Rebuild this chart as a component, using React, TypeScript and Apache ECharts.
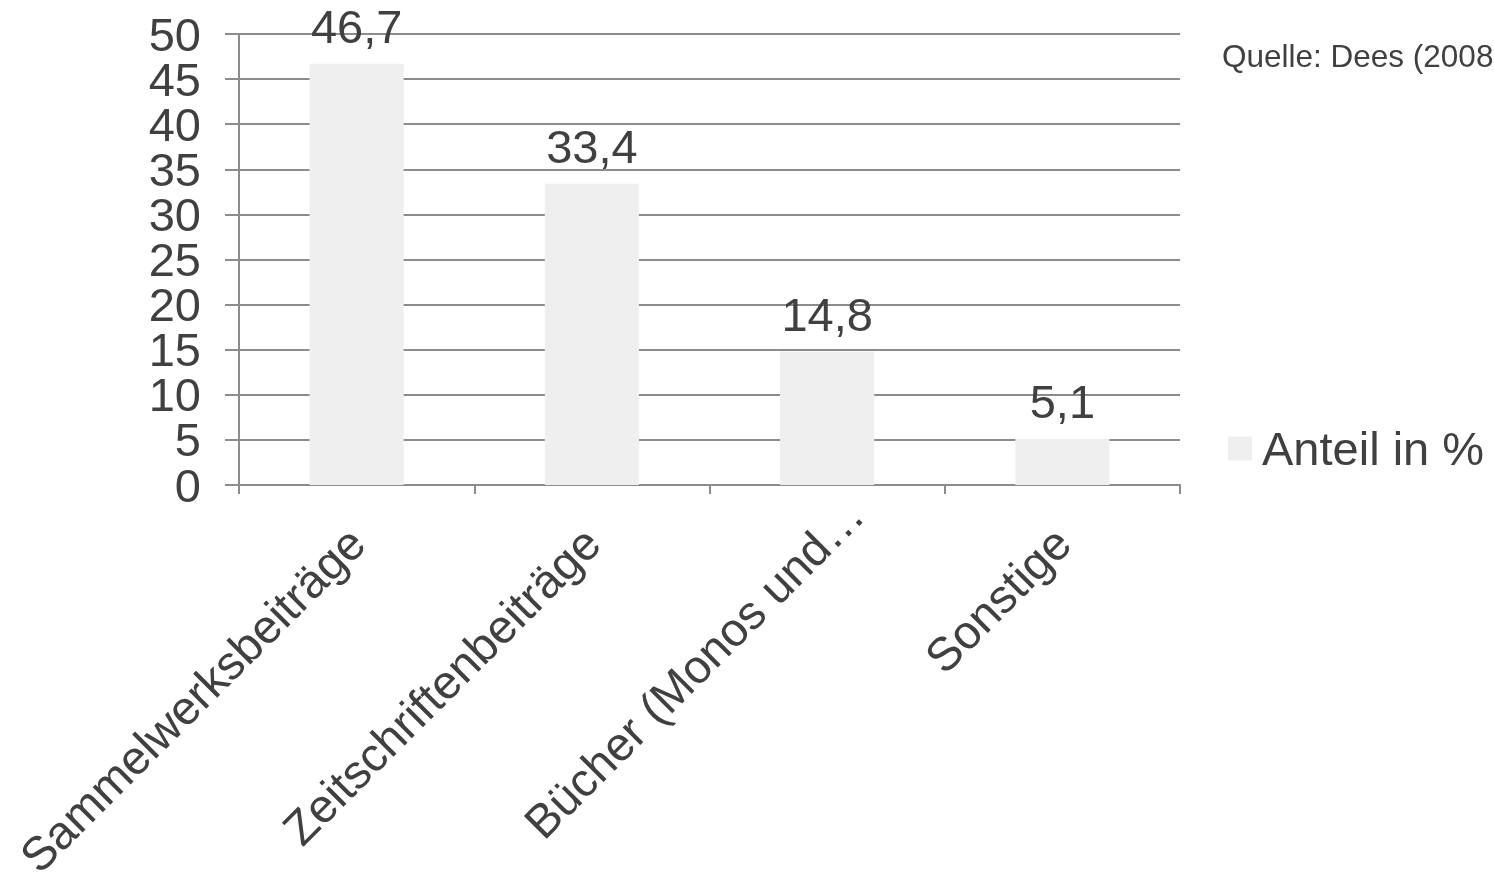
import React, { useEffect, useRef } from "react";
import * as echarts from "echarts";

const categories = ["Sammelwerksbeiträge", "Zeitschriftenbeiträge", "Bücher (Monos und…", "Sonstige"];
const values = [46.7, 33.4, 14.8, 5.1];
const yTickLabels = ["0", "5", "10", "15", "20", "25", "30", "35", "40", "45", "50"];
const seriesName = "Anteil in %";
const sourceText = "Quelle: Dees (2008";

const FONT = "'Liberation Sans', Arial, sans-serif";
const TEXT = "#404040";
const LINE = "#8c8c8c";
const FS = 47;

export default function App() {
  const ref = useRef<HTMLDivElement>(null);
  useEffect(() => {
    if (!ref.current) return;
    const chart = echarts.init(ref.current, undefined, { renderer: "svg" });
    const xData = categories.map((c, i) =>
      i === 2 ? { value: c, textStyle: { padding: [0, -40, 0, 0] } } : c
    );
    chart.setOption({
      animation: false,
      textStyle: { fontFamily: FONT },
      grid: { left: 239, right: 314, top: 34, bottom: 390, containLabel: false, outerBoundsMode: "none" },
      legend: {
        data: [seriesName],
        left: 1223,
        top: 420,
        icon: "rect",
        itemWidth: 24,
        itemHeight: 24,
        itemGap: 10,
        textStyle: { fontSize: FS, color: TEXT, fontFamily: FONT, padding: [0, 0, 0, 5] },
      },
      graphic: [
        {
          type: "text",
          left: 1222,
          top: 40,
          style: { text: sourceText, fontSize: 31.5, fill: TEXT, fontFamily: FONT },
        },
      ],
      xAxis: {
        type: "category",
        data: xData,
        axisLine: { show: true, lineStyle: { color: LINE, width: 2 } },
        axisTick: { show: true, length: 9, alignWithLabel: false, lineStyle: { color: LINE, width: 2 } },
        axisLabel: { rotate: 45, fontSize: FS, color: TEXT, fontFamily: FONT, margin: 50, interval: 0 },
        splitLine: { show: false },
      },
      yAxis: [
        {
          type: "value",
          min: 0,
          max: 50,
          interval: 5,
          axisLine: { show: true, lineStyle: { color: LINE, width: 2 } },
          axisTick: { show: true, length: 14, lineStyle: { color: LINE, width: 2 } },
          axisLabel: { show: false },
          splitLine: { show: true, lineStyle: { color: LINE, width: 2 } },
        },
        {
          type: "category",
          data: yTickLabels,
          position: "left",
          boundaryGap: false,
          axisLine: { show: false },
          axisTick: { show: false },
          splitLine: { show: false },
          axisLabel: {
            interval: 0,
            fontSize: FS,
            lineHeight: 40,
            color: TEXT,
            fontFamily: FONT,
            margin: 38,
          },
        },
      ],
      series: [
        {
          name: seriesName,
          type: "bar",
          yAxisIndex: 0,
          data: values,
          barWidth: "40%",
          itemStyle: { color: "#efefef" },
          label: {
            show: true,
            position: "top",
            distance: 14,
            fontSize: FS,
            color: TEXT,
            fontFamily: FONT,
            formatter: (p: any) => String(p.value).replace(".", ","),
          },
        },
      ],
    });
    return () => chart.dispose();
  }, []);
  return <div ref={ref} style={{ position: "fixed", left: 0, top: 0, width: 1494, height: 875 }} />;
}
